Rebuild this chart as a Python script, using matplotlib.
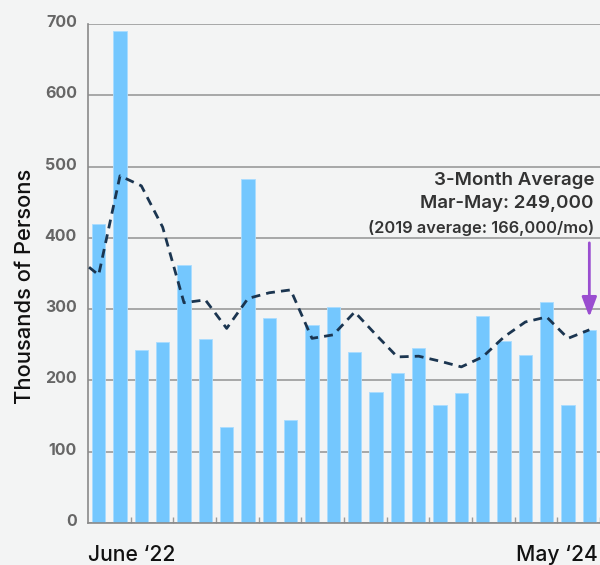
import matplotlib
matplotlib.use("Agg")
import matplotlib.pyplot as plt
import matplotlib.transforms as mtransforms
import numpy as np

# Data (thousands of persons), June '22 .. May '24
months = ["Jun 22", "Jul 22", "Aug 22", "Sep 22", "Oct 22", "Nov 22", "Dec 22",
          "Jan 23", "Feb 23", "Mar 23", "Apr 23", "May 23", "Jun 23", "Jul 23",
          "Aug 23", "Sep 23", "Oct 23", "Nov 23", "Dec 23", "Jan 24", "Feb 24",
          "Mar 24", "Apr 24", "May 24"]
monthly = [420, 690, 242, 254, 362, 258, 135, 482, 287, 145, 278, 303,
           240, 184, 210, 245, 165, 182, 290, 255, 235, 310, 165, 271]
# 3-month average, starting with May '22 (just outside the chart)
avg_prior = [372]
avg3 = [348, 487, 473, 415, 309, 313, 273, 315, 323, 327, 259, 264,
        296, 264, 233, 234, 227, 219, 233, 261, 282, 289, 259, 271]
first_label = "June \u201822"
last_label = "May \u201824"
y_ticks = [0, 100, 200, 300, 400, 500, 600, 700]
note_lines = ["3-Month Average", "Mar-May: 249,000", "(2019 average: 166,000/mo)"]

plt.rcParams['font.family'] = ['Inter', 'DejaVu Sans']
bg = '#F3F4F4'
fig = plt.figure(figsize=(6.0, 5.65), dpi=100, facecolor=bg)
ax = fig.add_axes([88/600, 1-523/565, 1-88/600, (523-24)/565])
ax.set_facecolor(bg)

x = np.arange(len(monthly))
ax.bar(x, monthly, width=0.64, color='#74C7FE', edgecolor='#A9DCFF',
       linewidth=0.6, zorder=2)

xl = np.concatenate([[-1], x])
yl = avg_prior + avg3
ax.plot(xl, yl, color='#1B3550', lw=2.0, ls=(0, (3.2, 2.2)), zorder=3,
        solid_capstyle='butt', dash_capstyle='butt')

ax.set_xlim(-0.5, len(monthly) - 0.5)
ax.set_ylim(0, 700)
ax.set_yticks(y_ticks)
ax.yaxis.grid(True, color='#9A9A9A', lw=1.2, zorder=1)
ax.set_axisbelow(True)
ax.tick_params(axis='y', length=0, pad=8, labelsize=11.5, labelcolor='#666666')
for lab in ax.get_yticklabels():
    lab.set_fontweight('bold')
    lab.set_transform(lab.get_transform() + mtransforms.ScaledTranslation(0, 3/100, fig.dpi_scale_trans))

ax.set_xticks(np.arange(1.5, len(monthly), 2))
ax.set_xticklabels([])
ax.tick_params(axis='x', direction='in', length=4, width=1, color='#9A9A9A')

for s in ['top', 'right']:
    ax.spines[s].set_visible(False)
for s in ['left', 'bottom']:
    ax.spines[s].set_color('#8A8A8A')
    ax.spines[s].set_linewidth(1.2)

fig.text(25/600, 1-286/565, "Thousands of Persons", rotation=90, ha='center', va='center',
         fontsize=15.8, color='#111111', fontweight=500)

fig.text(88/600, 1-555/565, first_label, ha='left', va='center', fontsize=15.2,
         color='#111111', fontweight=500)
fig.text(598/600, 1-555/565, last_label, ha='right', va='center', fontsize=15.2,
         color='#111111', fontweight=500)

fig.text(594/600, 1-180/565, note_lines[0], ha='right', va='center', fontsize=13.5,
         color='#333333', fontweight='semibold')
fig.text(594/600, 1-203/565, note_lines[1], ha='right', va='center', fontsize=13.5,
         color='#333333', fontweight='semibold')
fig.text(594/600, 1-228/565, note_lines[2], ha='right', va='center', fontsize=11.8,
         color='#333333', fontweight='semibold')

ax.annotate("", xy=(len(monthly) - 1, 289), xytext=(len(monthly) - 1, 393),
            arrowprops=dict(arrowstyle='-|>,head_width=0.45,head_length=1.2',
                            color='#9A4ED0', lw=2, shrinkA=0, shrinkB=0), zorder=4)

fig.savefig("out.png", dpi=100, facecolor=bg)
